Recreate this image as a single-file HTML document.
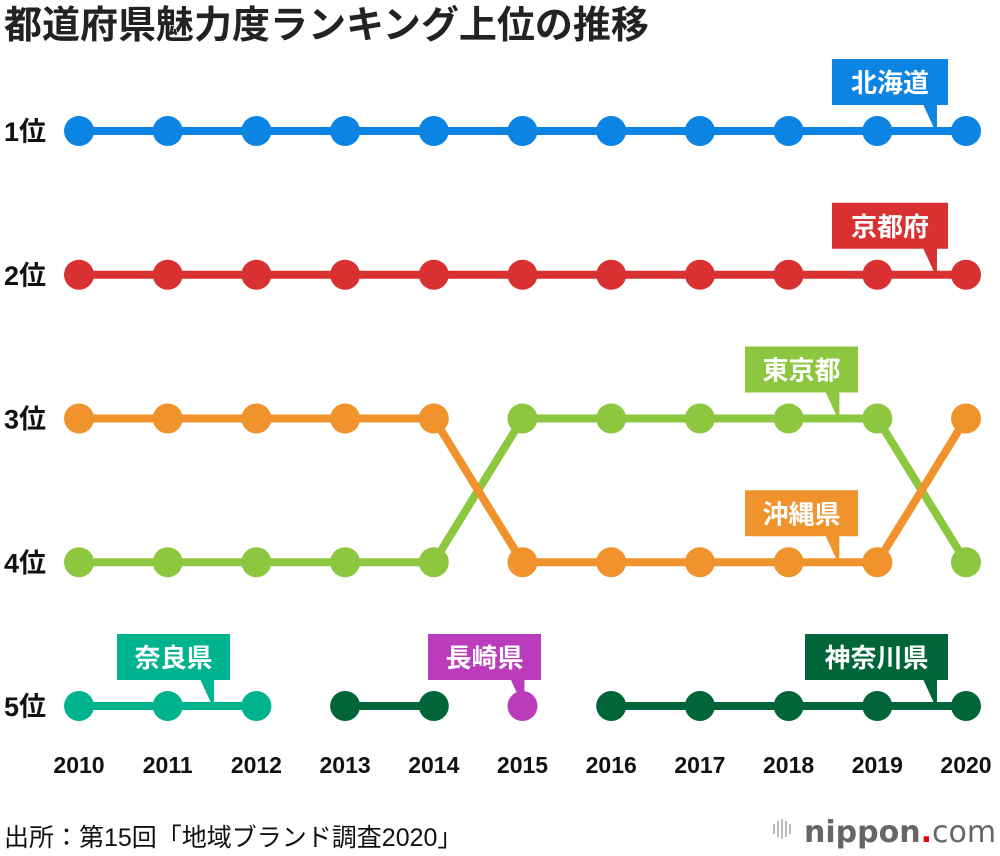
<!DOCTYPE html>
<html><head><meta charset="utf-8"><style>
body{margin:0;background:#fff;width:1000px;height:856px;overflow:hidden;font-family:"Liberation Sans","Noto Sans CJK JP",sans-serif}
svg{display:block}
</style></head><body>
<svg id="c" width="1000" height="856" xmlns="http://www.w3.org/2000/svg">
<text x="4" y="38" font-size="38" font-weight="bold" fill="#222" font-family="Liberation Sans,Noto Sans CJK JP,sans-serif">都道府県魅力度ランキング上位の推移</text>
<text x="4" y="846" font-size="25" fill="#111" font-family="Liberation Sans,Noto Sans CJK JP,sans-serif">出所：第15回「地域ブランド調査2020」</text>
<g>
<g fill="#bbb"><rect x="773" y="824" width="2" height="10"/><rect x="777" y="821" width="2" height="16"/><rect x="781" y="819" width="2" height="20"/><rect x="785" y="821" width="2" height="16"/><rect x="789" y="824" width="2" height="10"/></g>
<text x="804" y="842" font-size="30" fill="#666" font-family="DejaVu Sans,sans-serif"><tspan font-weight="bold">nippon</tspan><tspan fill="#e00" font-weight="bold">.</tspan><tspan>com</tspan></text>
</g>
</svg>
<script>
const years=[2010,2011,2012,2013,2014,2015,2016,2017,2018,2019,2020];
const rankLabels=["1位","2位","3位","4位","5位"];
const hokkaido=[1,1,1,1,1,1,1,1,1,1,1];
const kyoto=[2,2,2,2,2,2,2,2,2,2,2];
const tokyo=[4,4,4,4,4,3,3,3,3,3,4];
const okinawa=[3,3,3,3,3,4,4,4,4,4,3];
const nara=[5,5,5,null,null,null,null,null,null,null,null];
const nagasaki=[null,null,null,null,null,5,null,null,null,null,null];
const kanagawa=[null,null,null,5,5,null,5,5,5,5,5];
const X=y=>79+(y-2010)*(966-79)/10;
const Y=r=>131+(r-1)*(706-131)/4;
const svg=document.getElementById('c');
const NS='http://www.w3.org/2000/svg';
function mk(t,a,p){const e=document.createElementNS(NS,t);for(const k in a)e.setAttribute(k,a[k]);(p||svg).appendChild(e);return e;}
rankLabels.forEach((l,i)=>{const t=mk('text',{x:4,y:Y(i+1)+10,'font-size':27,'font-weight':'bold',fill:'#111'});


t.textContent=l;});
years.forEach(y=>{const t=mk('text',{x:X(y),y:773,'font-size':23,'font-weight':'bold',fill:'#111','text-anchor':'middle'});


t.textContent=y;});
const series=[
 {n:'hokkaido',d:hokkaido,c:'#0b84e3',label:'北海道',bx:832,bw:116,tip:2019.65},
 {n:'kyoto',d:kyoto,c:'#d93131',label:'京都府',bx:832,bw:116,tip:2019.65},
 {n:'tokyo',d:tokyo,c:'#8dc63f',label:'東京都',bx:745,bw:113,tip:2018.55,lr:3},
 {n:'okinawa',d:okinawa,c:'#f0932d',label:'沖縄県',bx:745,bw:113,tip:2018.55,lr:4},
 {n:'nara',d:nara,c:'#00b38f',label:'奈良県',bx:117,bw:113,tip:2011.5},
 {n:'nagasaki',d:nagasaki,c:'#bb3bbd',label:'長崎県',bx:428,bw:113,tip:2015},
 {n:'kanagawa',d:kanagawa,c:'#00663a',label:'神奈川県',bx:805,bw:143,tip:2019.65}
];
series.forEach(s=>{
 const g=mk('g',{});
 
 
 for(let i=0;i<years.length-1;i++){
  if(s.d[i]!=null&&s.d[i+1]!=null){
   const l=mk('line',{x1:X(years[i]),y1:Y(s.d[i]),x2:X(years[i+1]),y2:Y(s.d[i+1]),stroke:s.c,'stroke-width':8},g);
   
   
  }
 }
 s.d.forEach((r,i)=>{if(r==null)return;
  const p=mk('circle',{cx:X(years[i]),cy:Y(r),r:15,fill:s.c},g);
  
  });
});
series.forEach(s=>{
 const r=s.lr||s.d.find(v=>v!=null);
 const ly=Y(r), top=ly-72, bot=ly-26, tx=X(s.tip);
 const g=mk('g',{});
 
 
 mk('rect',{x:s.bx,y:top,width:s.bw,height:46,fill:s.c},g);
 mk('polygon',{points:`${tx-12},${bot-1} ${tx+2},${bot-1} ${tx+2},${ly-3} ${tx-1},${ly-3}`,fill:s.c},g);
 const t=mk('text',{x:s.bx+s.bw/2,y:top+33,'font-size':26,'font-weight':'bold',fill:'#fff','text-anchor':'middle'},g);
 t.textContent=s.label;
});
</script>
</body></html>
